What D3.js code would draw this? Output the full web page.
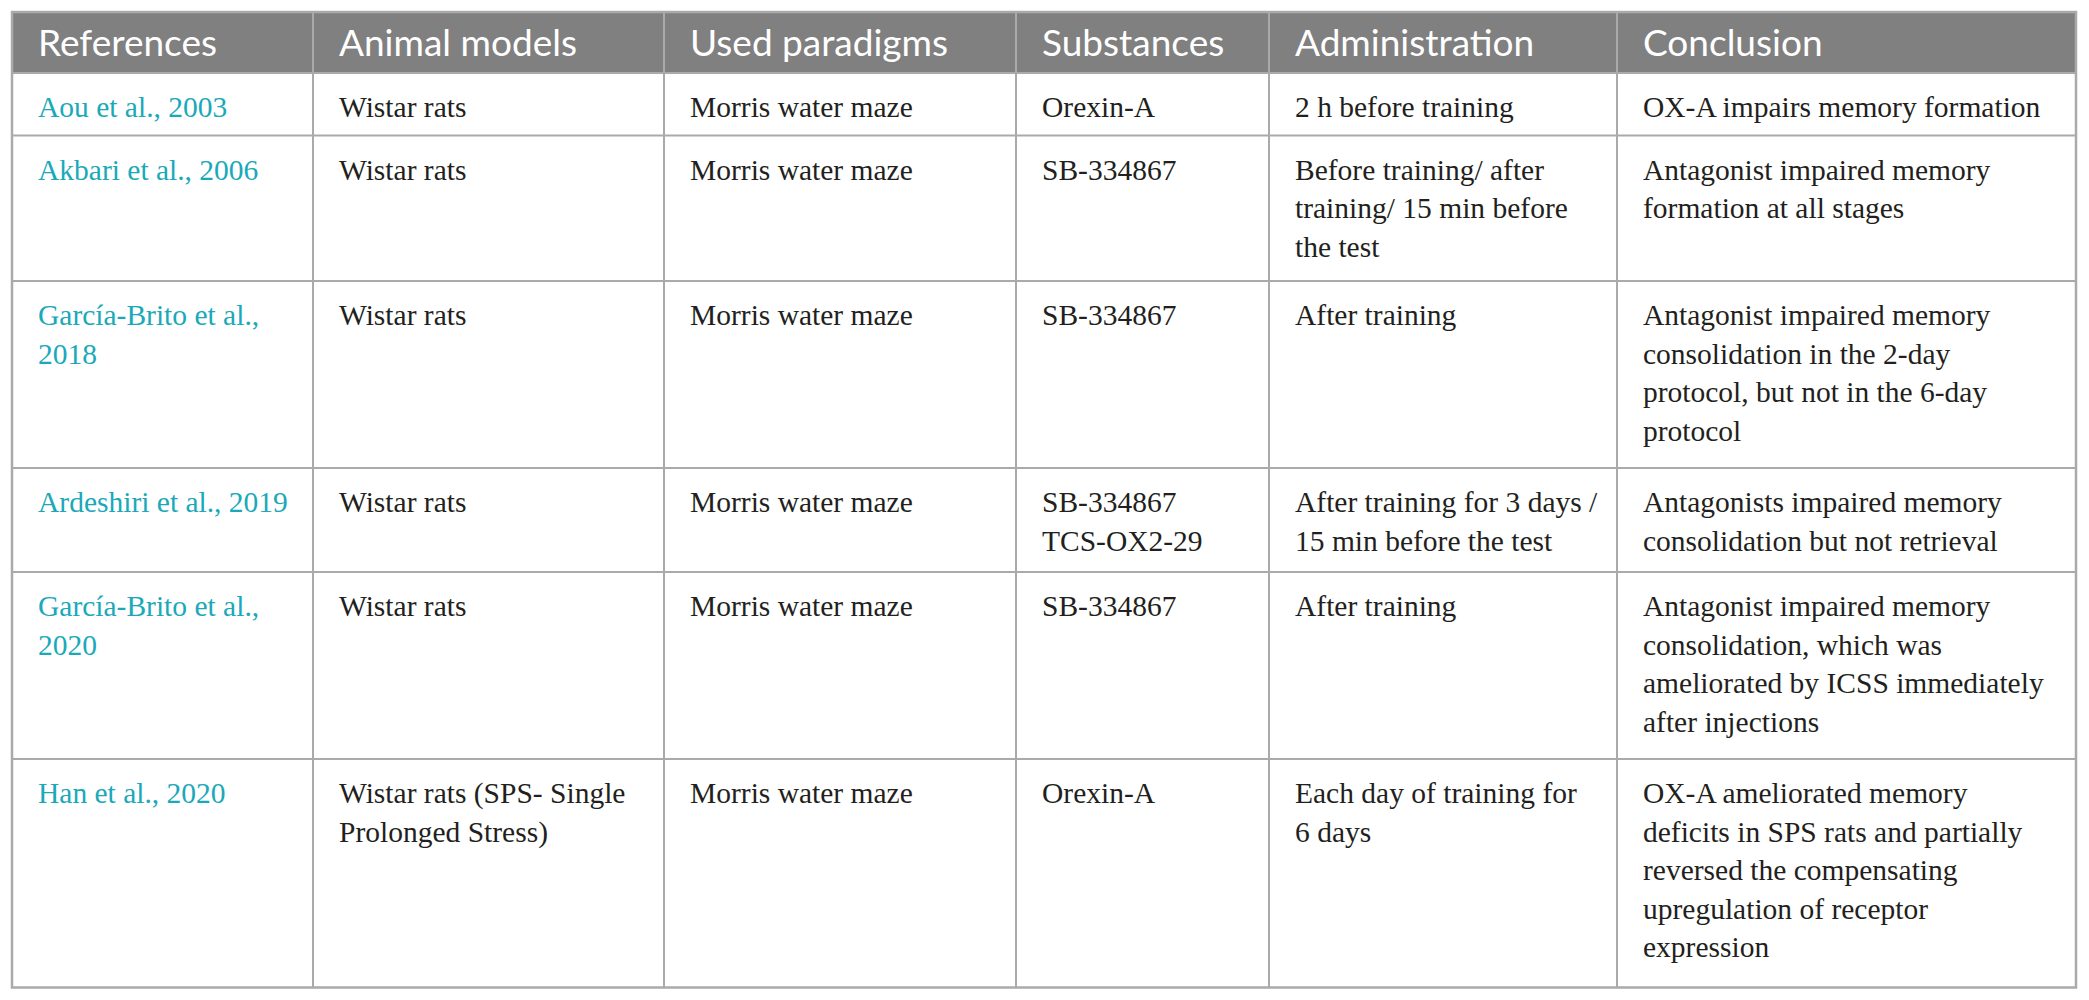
<!DOCTYPE html>
<html>
<head>
<meta charset="utf-8">
<script src="https://cdn.jsdelivr.net/npm/d3@7"></script>
<style>
  body { margin: 0; background: #fff; }
</style>
</head>
<body>
<div id="table"></div>
<script>
// column headers
var columns = ["References", "Animal models", "Used paradigms", "Substances", "Administration", "Conclusion"];

// one array per column, "\n" marks a printed line break
var references = [
  "Aou et al., 2003",
  "Akbari et al., 2006",
  "García-Brito et al.,\n2018",
  "Ardeshiri et al., 2019",
  "García-Brito et al.,\n2020",
  "Han et al., 2020"
];
var animalModels = [
  "Wistar rats",
  "Wistar rats",
  "Wistar rats",
  "Wistar rats",
  "Wistar rats",
  "Wistar rats (SPS- Single\nProlonged Stress)"
];
var paradigms = [
  "Morris water maze",
  "Morris water maze",
  "Morris water maze",
  "Morris water maze",
  "Morris water maze",
  "Morris water maze"
];
var substances = [
  "Orexin-A",
  "SB-334867",
  "SB-334867",
  "SB-334867\nTCS-OX2-29",
  "SB-334867",
  "Orexin-A"
];
var administration = [
  "2 h before training",
  "Before training/ after\ntraining/ 15 min before\nthe test",
  "After training",
  "After training for 3 days /\n15 min before the test",
  "After training",
  "Each day of training for\n6 days"
];
var conclusions = [
  "OX-A impairs memory formation",
  "Antagonist impaired memory\nformation at all stages",
  "Antagonist impaired memory\nconsolidation in the 2-day\nprotocol, but not in the 6-day\nprotocol",
  "Antagonists impaired memory\nconsolidation but not retrieval",
  "Antagonist impaired memory\nconsolidation, which was\nameliorated by ICSS immediately\nafter injections",
  "OX-A ameliorated memory\ndeficits in SPS rats and partially\nreversed the compensating\nupregulation of receptor\nexpression"
];

// layout
var W = 2089, H = 1000;
var tableLeft = 12, tableTop = 12, headH = 61;
var colWidths = [301, 351, 352, 253, 348, 459];
var lineH = 41.5, rowPad = 21, textLine = 38.5, padX = 26;

var cols = [references, animalModels, paradigms, substances, administration, conclusions];
var rows = references.map(function (d, i) {
  return cols.map(function (c) { return c[i].split("\n"); });
});
var nLines = rows.map(function (r) { return d3.max(r, function (c) { return c.length; }); });
var rowH = nLines.map(function (n) { return rowPad + n * lineH; });

// column and row scales built from cumulative sizes
var colEdges = [tableLeft].concat(Array.from(d3.cumsum(colWidths), function (v) { return tableLeft + v; }));
var x = d3.scaleOrdinal().domain(columns).range(colEdges.slice(0, -1));
var rowEdges = [tableTop + headH].concat(Array.from(d3.cumsum(rowH), function (v) { return tableTop + headH + v; }));
var y = d3.scaleOrdinal().domain(d3.range(rows.length)).range(rowEdges.slice(0, -1));
var tableRight = colEdges[colEdges.length - 1], tableBottom = rowEdges[rowEdges.length - 1];

var svg = d3.select("#table")
  .append("svg")
  .attr("width", W)
  .attr("height", H);

// header band
svg.append("rect")
  .attr("x", tableLeft)
  .attr("y", tableTop)
  .attr("width", tableRight - tableLeft)
  .attr("height", headH)
  .attr("fill", "#808080");

svg.append("g")
  .selectAll("text")
  .data(columns)
  .enter()
  .append("text")
  .attr("x", function (d) { return x(d) + padX; })
  .attr("y", tableTop + 44)
  .attr("fill", "#fff")
  .style("font-family", "Lato, 'Open Sans', sans-serif")
  .style("font-size", "37px")
  .text(function (d) { return d; });

// body cells
var rowG = svg.append("g")
  .selectAll("g")
  .data(rows)
  .enter()
  .append("g")
  .attr("transform", function (d, i) { return "translate(0," + y(i) + ")"; });

rowG.selectAll("text")
  .data(function (d) { return d; })
  .enter()
  .append("text")
  .attr("x", function (d, j) { return x(columns[j]) + padX; })
  .attr("y", 44)
  .attr("fill", function (d, j) { return j === 0 ? "#1aa9b9" : "#231f20"; })
  .style("font-family", "'Liberation Serif', 'Times New Roman', serif")
  .style("font-size", "29.5px")
  .selectAll("tspan")
  .data(function (d) { return d; })
  .enter()
  .append("tspan")
  .attr("x", function () { return d3.select(this.parentNode).attr("x"); })
  .attr("dy", function (d, k) { return k === 0 ? 0 : textLine; })
  .text(function (d) { return d; });

// grid lines
var grid = svg.append("g")
  .attr("stroke", "#aaaaaa")
  .attr("stroke-width", 2)
  .attr("fill", "none");

grid.selectAll("line.h")
  .data(rowEdges.slice(0, -1))
  .enter()
  .append("line")
  .attr("class", "h")
  .attr("x1", tableLeft)
  .attr("x2", tableRight)
  .attr("y1", function (d) { return d; })
  .attr("y2", function (d) { return d; });

grid.selectAll("line.v")
  .data(colEdges.slice(1, -1))
  .enter()
  .append("line")
  .attr("class", "v")
  .attr("x1", function (d) { return d; })
  .attr("x2", function (d) { return d; })
  .attr("y1", tableTop)
  .attr("y2", tableBottom);

grid.append("rect")
  .attr("x", tableLeft)
  .attr("y", tableTop)
  .attr("width", tableRight - tableLeft)
  .attr("height", tableBottom - tableTop)
  .attr("stroke-width", 2.5);
</script>
</body>
</html>
